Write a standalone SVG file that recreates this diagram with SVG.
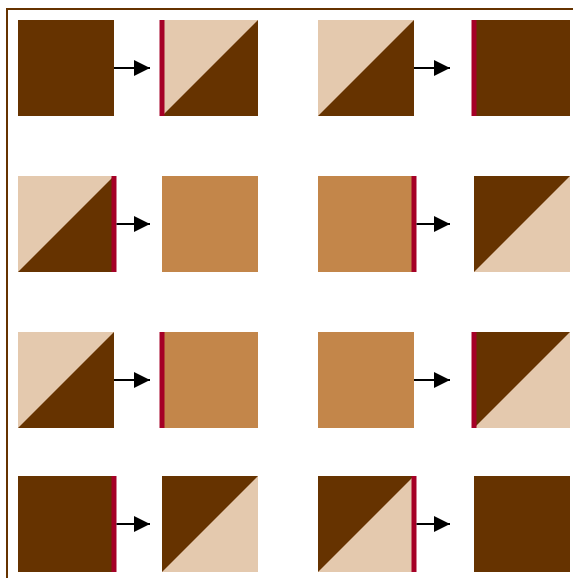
<svg xmlns="http://www.w3.org/2000/svg" width="573" height="578" viewBox="0 0 573 578">
<defs>
<style>
.d{fill:#663300}
.l{fill:#E4C9AE}
.m{fill:#C3864A}
.r{stroke:#A50026;stroke-width:5}
.c{stroke:#000;stroke-width:2;fill:none}
.h{fill:#000}
</style>
<marker id="ah" markerWidth="16" markerHeight="16" refX="16" refY="8" orient="auto" markerUnits="userSpaceOnUse"><path d="M0,0 L16,8 L0,16 Z" fill="#000"/></marker>
</defs>
<rect width="573" height="578" fill="#fff"/>
<path d="M7,578 V9 H573" fill="none" stroke="#663300" stroke-width="2"/>
<!-- Row 1 -->
<g id="n11"><rect class="d" x="18" y="20" width="96" height="96"/></g>
<g id="n12"><rect class="l" x="162" y="20" width="96" height="96"/><path class="d" d="M162,116 L258,20 L258,116 Z"/><line class="r" x1="162" y1="20" x2="162" y2="116"/></g>
<g id="n13"><rect class="l" x="318" y="20" width="96" height="96"/><path class="d" d="M318,116 L414,20 L414,116 Z"/></g>
<g id="n14"><rect class="d" x="474" y="20" width="96" height="96"/><line class="r" x1="474" y1="20" x2="474" y2="116"/></g>
<!-- Row 2 -->
<g id="n21"><rect class="l" x="18" y="176" width="96" height="96"/><path class="d" d="M18,272 L114,176 L114,272 Z"/><line class="r" x1="114" y1="176" x2="114" y2="272"/></g>
<g id="n22"><rect class="m" x="162" y="176" width="96" height="96"/></g>
<g id="n23"><rect class="m" x="318" y="176" width="96" height="96"/><line class="r" x1="414" y1="176" x2="414" y2="272"/></g>
<g id="n24"><rect class="l" x="474" y="176" width="96" height="96"/><path class="d" d="M474,176 L570,176 L474,272 Z"/></g>
<!-- Row 3 -->
<g id="n31"><rect class="l" x="18" y="332" width="96" height="96"/><path class="d" d="M18,428 L114,332 L114,428 Z"/></g>
<g id="n32"><rect class="m" x="162" y="332" width="96" height="96"/><line class="r" x1="162" y1="332" x2="162" y2="428"/></g>
<g id="n33"><rect class="m" x="318" y="332" width="96" height="96"/></g>
<g id="n34"><rect class="l" x="474" y="332" width="96" height="96"/><path class="d" d="M474,332 L570,332 L474,428 Z"/><line class="r" x1="474" y1="332" x2="474" y2="428"/></g>
<!-- Row 4 -->
<g id="n41"><rect class="d" x="18" y="476" width="96" height="96"/><line class="r" x1="114" y1="476" x2="114" y2="572"/></g>
<g id="n42"><rect class="l" x="162" y="476" width="96" height="96"/><path class="d" d="M162,476 L258,476 L162,572 Z"/></g>
<g id="n43"><rect class="l" x="318" y="476" width="96" height="96"/><path class="d" d="M318,476 L414,476 L318,572 Z"/><line class="r" x1="414" y1="476" x2="414" y2="572"/></g>
<g id="n44"><rect class="d" x="474" y="476" width="96" height="96"/></g>
<!-- Connectors -->
<g id="connectors">
<line class="c" x1="114" y1="68" x2="150" y2="68" marker-end="url(#ah)"/>
<line class="c" x1="414" y1="68" x2="450" y2="68" marker-end="url(#ah)"/>
<line class="c" x1="116.5" y1="224" x2="150" y2="224" marker-end="url(#ah)"/>
<line class="c" x1="416.5" y1="224" x2="450" y2="224" marker-end="url(#ah)"/>
<line class="c" x1="114" y1="380" x2="150" y2="380" marker-end="url(#ah)"/>
<line class="c" x1="414" y1="380" x2="450" y2="380" marker-end="url(#ah)"/>
<line class="c" x1="116.5" y1="524" x2="150" y2="524" marker-end="url(#ah)"/>
<line class="c" x1="416.5" y1="524" x2="450" y2="524" marker-end="url(#ah)"/>
</g>
</svg>
